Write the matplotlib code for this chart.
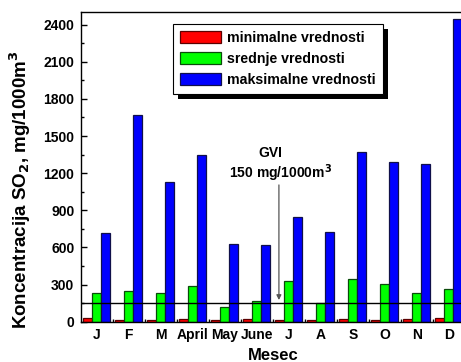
import matplotlib
matplotlib.use("Agg")
import matplotlib.pyplot as plt
from matplotlib.patches import Rectangle
from matplotlib.transforms import IdentityTransform
from matplotlib.ticker import MultipleLocator, FixedLocator
import numpy as np

plt.rcParams['font.family'] = ['Liberation Sans', 'DejaVu Sans']
plt.rcParams['font.weight'] = 'bold'
plt.rcParams['mathtext.default'] = 'bf'

months = ["J", "F", "M", "April", "May", "June", "J", "A", "S", "O", "N", "D"]
min_vals = [27, 11, 16, 19, 11, 19, 11, 16, 19, 16, 19, 27]
mean_vals = [229, 250, 229, 288, 119, 165, 331, 149, 343, 302, 232, 262]
max_vals = [719, 1673, 1126, 1345, 628, 622, 844, 722, 1369, 1293, 1277, 2443]
series_names = ["minimalne vrednosti", "srednje vrednosti", "maksimalne vrednosti"]
gvi = 150

W, H = 461, 362
fig = plt.figure(figsize=(W / 100, H / 100), dpi=100)
left, right, top, bottom = 80.5, 461.0, 12.3, 321.7
ax = fig.add_axes([left / W, 1 - bottom / H, (right - left) / W, (bottom - top) / H])

x = np.arange(len(months))
w = 0.28
colors = ["#ff0000", "#00ff00", "#0000ff"]
edges = ["#5a0000", "#0a4a0a", "#10104a"]
for i, (vals, c, ec, name) in enumerate(zip([min_vals, mean_vals, max_vals], colors, edges, series_names)):
    ax.bar(x + (i - 1) * w, vals, width=w, color=c, edgecolor=ec, linewidth=0.9, label=name, zorder=2)

ax.axhline(gvi, color="black", linewidth=1.0, zorder=3)

ax.set_xlim(-0.51, 11.38)
ax.set_ylim(0, 2500)
ax.yaxis.set_major_locator(MultipleLocator(300))
ax.yaxis.set_minor_locator(MultipleLocator(150))
ax.set_xticks(x)
ax.set_xticklabels(months)
ax.xaxis.set_minor_locator(FixedLocator(x[:-1] + 0.5))
ax.tick_params(axis="both", which="major", direction="in", length=4, width=1,
               labelsize=10, pad=4.5)
ax.tick_params(axis="both", which="minor", direction="in", length=2.5, width=1)
for lab in ax.get_xticklabels() + ax.get_yticklabels():
    lab.set_fontweight("bold")
ax.spines["right"].set_visible(False)
for s in ["left", "bottom", "top"]:
    ax.spines[s].set_linewidth(1.0)

# GVI annotation
ax.text(5.41, 1363, "GVI", ha="center", va="center", fontsize=10, fontweight="bold")
ax.text(5.73, 1202, r"150 mg/1000m$^{3}$", ha="center", va="center", fontsize=10, fontweight="bold")
ax.annotate("", xy=(5.69, 175), xytext=(5.69, 1105),
            arrowprops=dict(arrowstyle="-|>", color="#555555", lw=0.9,
                            mutation_scale=7, shrinkA=0, shrinkB=0))

# Labels
fig.text(273.5 / W, 1 - 360.5 / H, "Mesec", ha="center", va="baseline", fontsize=12, fontweight="bold")
fig.text(20 / W, 1 - 190 / H, r"Koncentracija SO$_2$, mg/1000m$^3$", rotation=90,
         ha="center", va="center", fontsize=13.5, fontweight="bold")

leg = ax.legend(loc="upper left", bbox_to_anchor=(173.3 / W, 1 - 23.7 / H),
                bbox_transform=fig.transFigure, borderaxespad=0, fancybox=False,
                framealpha=1, edgecolor="black", handlelength=2.9,
                handleheight=0.95, handletextpad=0.4, labelspacing=0.5,
                borderpad=0.5, prop={"weight": "bold", "size": 10.2})
leg.get_frame().set_linewidth(0.8)
leg.set_zorder(6)

fig.canvas.draw()
bb = leg.get_window_extent()
shadow = Rectangle((bb.x0 + 5, bb.y0 - 5), bb.width, bb.height, transform=IdentityTransform(),
                   facecolor="black", edgecolor="none", zorder=5.5, clip_on=False)
ax.add_artist(shadow)

fig.savefig("out.png", dpi=100)
